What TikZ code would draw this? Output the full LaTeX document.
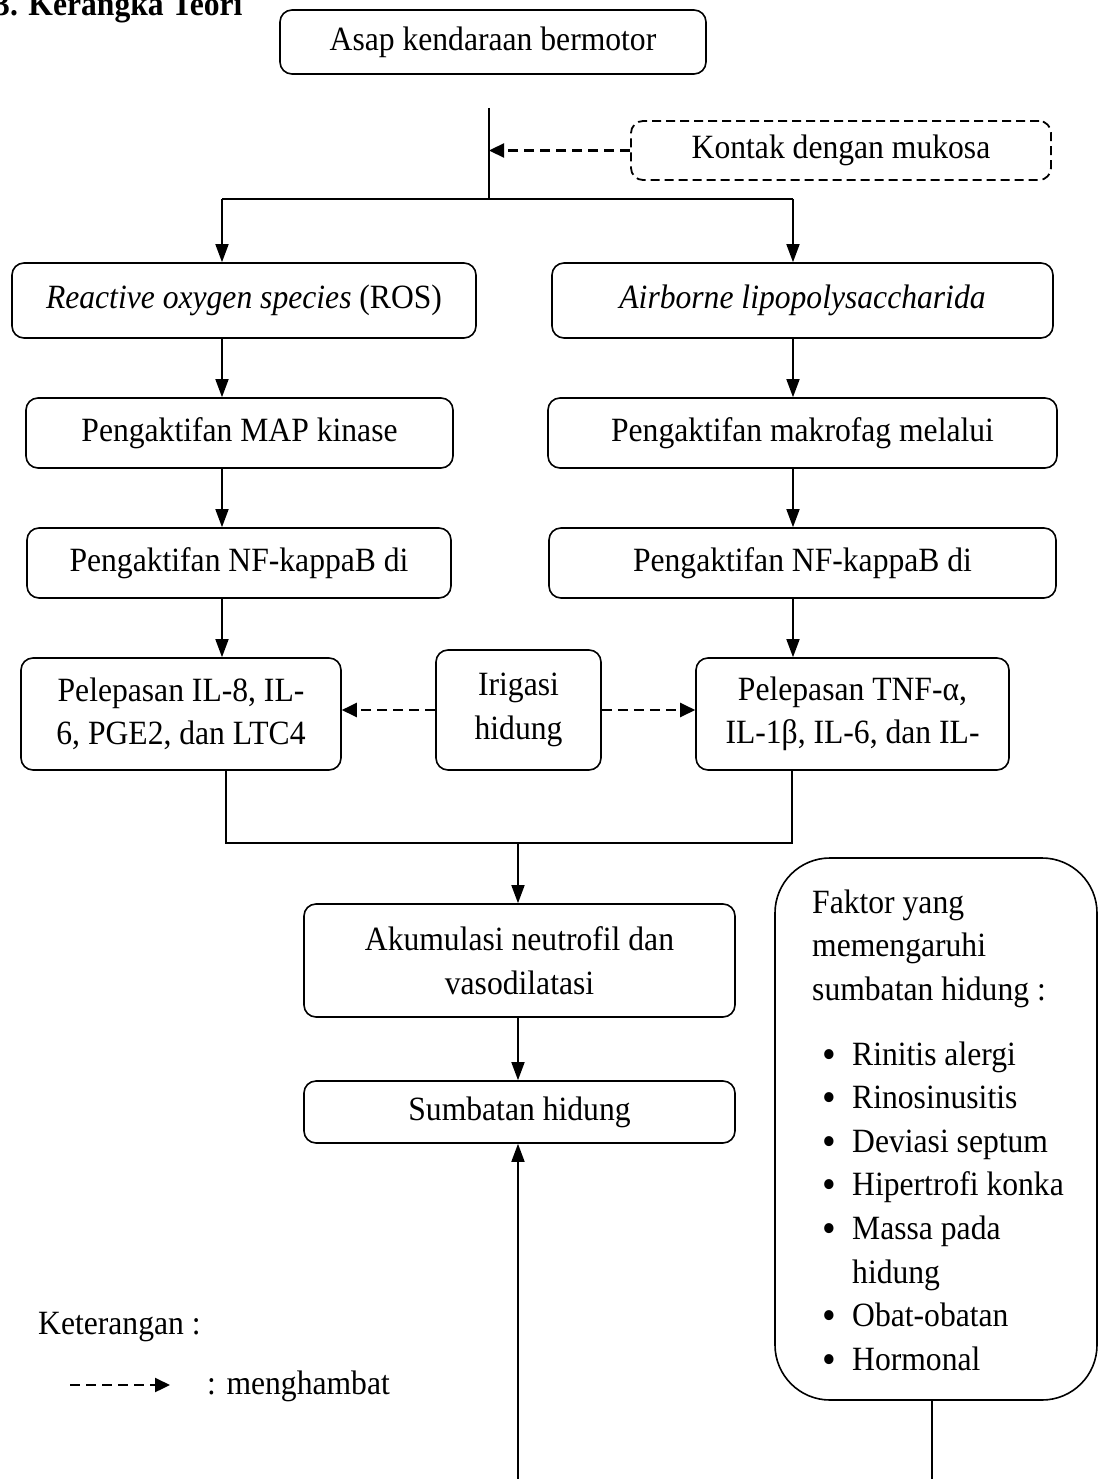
\documentclass[tikz,border=0pt]{standalone}
\usepackage{fontspec}
\setmainfont{Liberation Serif}[FakeStretch=0.93]
\usetikzlibrary{arrows.meta,calc}
\tikzset{
  box/.style={draw, rounded corners=12pt, line width=1.6pt, align=center, inner sep=0pt},
  dbox/.style={box, line width=1.8pt, dash pattern=on 9pt off 5pt},
  arr/.style={line width=1.6pt, -{Triangle[length=18pt,width=13pt]}},
  darr/.style={line width=2.3pt, dash pattern=on 10pt off 6pt, -{Triangle[length=15pt,width=14pt]}},
  plain/.style={line width=1.6pt},
  txt/.style={anchor=base west, inner sep=0pt},
  bul/.style={anchor=base, inner sep=0pt, font=\fontsize{42}{42}\selectfont}
}
\begin{document}
\begin{tikzpicture}[x=1pt,y=-1pt,font=\fontsize{34}{43.6}\selectfont]
\useasboundingbox (0,0) rectangle (1099,1479);

\node[anchor=base west, inner sep=0pt, font=\fontsize{34}{40}\selectfont\bfseries] (title) at (-6,16) {3. Kerangka Teori};

\node[box, minimum width=426pt, minimum height=64pt] (asap) at (493,42) {Asap kendaraan bermotor};
\node[dbox, minimum width=420pt, minimum height=59pt] (kontak) at (841,150.5) {Kontak dengan mukosa};

\node[box, minimum width=464pt, minimum height=75pt] (ros) at (244,300.5) {\textit{Reactive oxygen species} (ROS)};
\node[box, minimum width=501pt, minimum height=75pt] (lps) at (802.5,300.5) {\textit{Airborne lipopolysaccharida}};
\node[box, minimum width=427pt, minimum height=70pt] (map) at (239.5,433) {Pengaktifan MAP kinase};
\node[box, minimum width=509pt, minimum height=70pt] (mak) at (802.5,433) {Pengaktifan makrofag melalui};
\node[box, minimum width=424pt, minimum height=70pt] (nfa) at (239,563) {Pengaktifan NF-kappaB di};
\node[box, minimum width=507pt, minimum height=70pt] (nfb) at (802.5,563) {Pengaktifan NF-kappaB di};

\node[box, minimum width=320pt, minimum height=112pt] (il) at (181,714) {Pelepasan IL-8, IL-\\6, PGE2, dan LTC4};
\node[box, minimum width=165pt, minimum height=120pt] (iri) at (518.5,710) {Irigasi\\hidung};
\node[box, minimum width=313pt, minimum height=112pt] (tnf) at (852.5,714) {Pelepasan TNF-α,\\IL-1β, IL-6, dan IL-};

\node[box, minimum width=431pt, minimum height=113pt] (aku) at (519.5,960.5) {Akumulasi neutrofil dan\\vasodilatasi};
\node[box, minimum width=431pt, minimum height=62pt] (sum) at (519.5,1112) {Sumbatan hidung};

\node[draw, line width=1.6pt, rounded corners=55pt, minimum width=322pt, minimum height=542pt, inner sep=0pt] (faktor) at (936,1129) {};
\node[txt] (f1) at (812,913) {Faktor yang};
\node[txt] (f2) at (812,956) {memengaruhi};
\node[txt] (f3) at (812,1000) {sumbatan hidung :};
\foreach \t [count=\i] in {Rinitis alergi,Rinosinusitis,Deviasi septum,Hipertrofi konka,Massa pada,hidung,Obat-obatan,Hormonal}{
  \node[txt] (b\i) at (852,{1065+(\i-1)*43.6}) {\t};
}
\foreach \i in {1,2,3,4,5,7,8}{
  \node[bul] (d\i) at (829,{1068+(\i-1)*43.6}) {\textbullet};
}

\node[txt] (ket) at (38,1334) {Keterangan :};
\coordinate (la) at (70,1385);
\coordinate (lb) at (170,1385);
\draw[darr] (la) -- (lb);
\node[txt] (mh) at (207,1394) {: menghambat};

% connectors
\coordinate (s1) at (489,108);
\coordinate (j1) at (489,199);
\coordinate (jl) at (222,199);
\coordinate (jr) at (793,199);
\draw[plain] (s1) -- (j1);
\draw[plain] (jl) -- (jr);
\draw[darr] (kontak.west) -- (s1 |- kontak.west);
\draw[arr] (jl) -- (jl |- ros.north);
\draw[arr] (jr) -- (jr |- lps.north);
\draw[arr] (jl |- ros.south) -- (jl |- map.north);
\draw[arr] (jr |- lps.south) -- (jr |- mak.north);
\draw[arr] (jl |- map.south) -- (jl |- nfa.north);
\draw[arr] (jr |- mak.south) -- (jr |- nfb.north);
\draw[arr] (jl |- nfa.south) -- (jl |- il.north);
\draw[arr] (jr |- nfb.south) -- (jr |- tnf.north);
\draw[darr] (iri.west) -- (il.east |- iri.west);
\draw[darr] (iri.east) -- (tnf.west |- iri.east);

\coordinate (bl) at (226,843);
\coordinate (br) at (792,843);
\coordinate (bm) at (518,843);
\draw[plain] (il.south -| bl) -- (bl) -- (br) -- (tnf.south -| br);
\draw[arr] (bm) -- (bm |- aku.north);
\draw[arr] (bm |- aku.south) -- (bm |- sum.north);
\coordinate (bot) at (518,1479);
\draw[arr] (bot) -- (bot |- sum.south);
\coordinate (fb) at (932,1479);
\draw[plain] (faktor.south -| fb) -- (fb);
\end{tikzpicture}
\end{document}
